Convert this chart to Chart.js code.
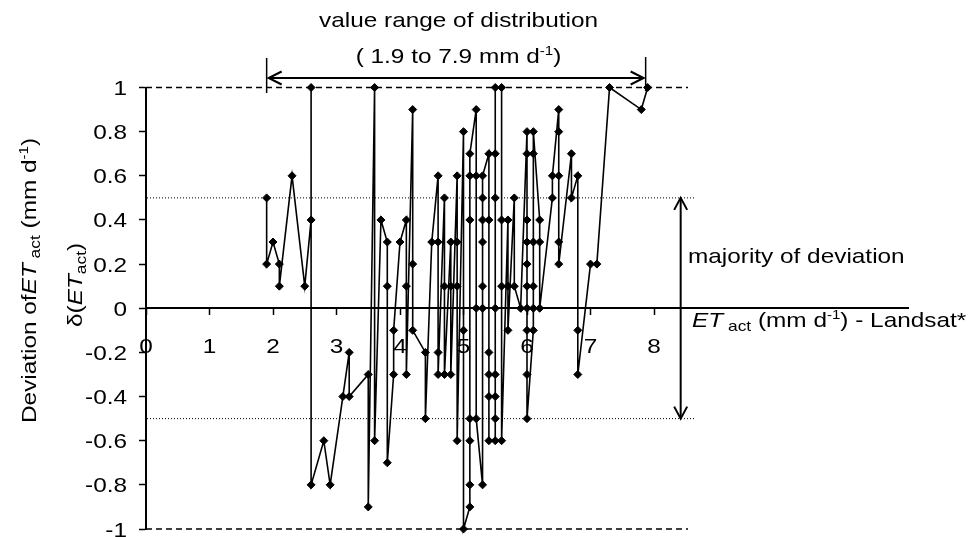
<!DOCTYPE html>
<html><head><meta charset="utf-8">
<script src="https://cdn.jsdelivr.net/npm/chart.js@4.4.1/dist/chart.umd.min.js"></script>
<style>html,body{margin:0;padding:0;background:#fff;}canvas{display:block;}</style>
</head><body>
<canvas id="c" width="973" height="537"></canvas>
<script>
// ET_act (Landsat*) values, mm/d
const etActLandsat = [
  1.9,1.9, 2.0, 2.1,2.1, 2.3, 2.5, 2.6,2.6,2.6, 2.8, 2.9, 3.1, 3.2,3.2,
  3.5,3.5, 3.6,3.6, 3.7, 3.8,3.8,3.8, 3.9,3.9, 4.0, 4.1,4.1,4.1, 4.2,4.2,4.2,
  4.4,4.4, 4.5, 4.6,4.6,4.6,4.6, 4.7,4.7,4.7, 4.8,4.8,4.8, 4.9,4.9,4.9,4.9,
  5.0,5.0,5.0, 5.1,5.1,5.1,5.1,5.1,5.1,5.1, 5.2,5.2,5.2,5.2,
  5.3,5.3,5.3,5.3,5.3,5.3,5.3, 5.4,5.4,5.4,5.4,5.4,5.4,
  5.5,5.5,5.5,5.5,5.5,5.5,5.5,5.5, 5.6,5.6,5.6,5.6, 5.7,5.7,5.7, 5.8,5.8, 5.9,
  6.0,6.0,6.0,6.0,6.0,6.0,6.0,6.0,6.0,6.0, 6.1,6.1,6.1,6.1,6.1,6.1,
  6.2,6.2,6.2, 6.4,6.4, 6.5,6.5,6.5,6.5,6.5, 6.7,6.7, 6.8,6.8,6.8,
  7.0, 7.1, 7.3, 7.8, 7.9
];
// deviation delta(ET_act), mm/d
const deviation = [
  0.5,0.2, 0.3, 0.2,0.1, 0.6, 0.1, 0.4,1.0,-0.8, -0.6, -0.8, -0.4, -0.2,-0.4,
  -0.3,-0.9, 1.0,-0.6, 0.4, 0.3,0.1,-0.7, -0.3,-0.1, 0.3, 0.4,0.1,-0.3, 0.9,0.2,-0.1,
  -0.2,-0.5, 0.3, 0.6,0.3,-0.2,-0.3, 0.5,0.1,-0.3, 0.3,0.1,-0.3, 0.6,0.3,0.1,-0.6,
  0.8,-0.1,-1.0, -0.9,-0.8,-0.6,-0.5,0.4,0.6,0.7, 0.9,0.6,0.0,-0.5,
  -0.8,0.0,0.1,0.3,0.4,0.5,0.6, 0.7,0.4,-0.2,-0.3,-0.4,-0.6,
  -0.6,-0.5,-0.4,-0.3,0.0,0.5,0.7,1.0, 1.0,0.4,0.1,-0.6, 0.4,0.1,-0.1, 0.5,0.1, 0.0,
  0.8,0.7,0.4,0.3,0.2,0.1,0.0,-0.1,-0.3,-0.5, -0.1,0.0,0.1,0.3,0.7,0.8,
  0.4,0.3,0.0, 0.5,0.6, 0.9,0.8,0.6,0.3,0.2, 0.7,0.5, 0.6,-0.1,-0.3,
  0.2, 0.2, 1.0, 0.9, 1.0
];
const xTickLabels = ['0','1','2','3','4','5','6','7','8'];
const yTickLabels = ['1','0.8','0.6','0.4','0.2','0','-0.2','-0.4','-0.6','-0.8','-1'];
const rangeMin = 1.9, rangeMax = 7.9;
const majorityBand = [0.5, -0.5];
const limits = [1, -1];

const FONT = '"Liberation Sans", Arial, sans-serif';
const S = 1.16;
function fontStr(size, italic){ return (italic ? 'italic ' : '') + size + 'px ' + FONT; }
function drawRich(ctx, parts, x, y, align, rot){
  ctx.save();
  ctx.translate(x, y);
  if (rot) ctx.rotate(rot);
  ctx.scale(S, 1);
  let w = 0;
  for (const p of parts){ ctx.font = fontStr(p.size || 21, p.italic); w += ctx.measureText(p.t).width; }
  let cx = align === 'center' ? -w/2 : (align === 'right' ? -w : 0);
  ctx.textAlign = 'left'; ctx.textBaseline = 'alphabetic'; ctx.fillStyle = '#000';
  for (const p of parts){
    ctx.font = fontStr(p.size || 21, p.italic);
    ctx.fillText(p.t, cx, p.dy || 0);
    cx += ctx.measureText(p.t).width;
  }
  ctx.restore();
}
function arrowHead(ctx, tx, ty, dx, dy, len, half){
  // open V arrowhead at tip (tx,ty), pointing in direction (dx,dy)
  const px = -dy, py = dx;
  ctx.beginPath();
  ctx.moveTo(tx - dx*len + px*half, ty - dy*len + py*half);
  ctx.lineTo(tx, ty);
  ctx.lineTo(tx - dx*len - px*half, ty - dy*len - py*half);
  ctx.stroke();
}

const refLines = {
  id: 'refLines',
  beforeDatasetsDraw(chart){
    const ctx = chart.ctx, xs = chart.scales.x, ys = chart.scales.y;
    const x0 = xs.getPixelForValue(0);
    ctx.save();
    ctx.strokeStyle = '#000';
    ctx.lineWidth = 1.3; ctx.setLineDash([6, 4]);
    for (const v of limits){
      const y = ys.getPixelForValue(v);
      ctx.beginPath(); ctx.moveTo(x0, y); ctx.lineTo(688, y); ctx.stroke();
    }
    ctx.lineWidth = 1; ctx.setLineDash([1, 2]);
    for (const v of majorityBand){
      const y = ys.getPixelForValue(v);
      ctx.beginPath(); ctx.moveTo(x0 + 1, y); ctx.lineTo(695, y); ctx.stroke();
    }
    ctx.restore();
  },
  afterDraw(chart){
    const ctx = chart.ctx, xs = chart.scales.x, ys = chart.scales.y;
    ctx.save();
    ctx.strokeStyle = '#000'; ctx.setLineDash([]);
    // tick labels
    xTickLabels.forEach(l => {
      drawRich(ctx, [{t: l}], xs.getPixelForValue(parseFloat(l)), 353, 'center');
    });
    yTickLabels.forEach(l => {
      drawRich(ctx, [{t: l}], 127, ys.getPixelForValue(parseFloat(l)) + 7.5, 'right');
    });
    // top range arrow
    const xa = xs.getPixelForValue(rangeMin), xb = xs.getPixelForValue(rangeMax);
    const ya = ys.getPixelForValue(1) - 9.5;
    ctx.lineWidth = 1.5;
    ctx.beginPath(); ctx.moveTo(xa, ya - 20); ctx.lineTo(xa, ya + 15); ctx.stroke();
    ctx.beginPath(); ctx.moveTo(xb - 2, ya - 21); ctx.lineTo(xb - 2, ya + 13); ctx.stroke();
    ctx.lineWidth = 2;
    ctx.beginPath(); ctx.moveTo(xa + 2, ya); ctx.lineTo(xb - 4, ya); ctx.stroke();
    arrowHead(ctx, xa + 2, ya, -1, 0, 13, 6.5);
    arrowHead(ctx, xb - 4, ya, 1, 0, 13, 6.5);
    // vertical majority arrow
    const xv = xs.getPixelForValue(8.42);
    const yt = ys.getPixelForValue(majorityBand[0]), yb = ys.getPixelForValue(majorityBand[1]);
    ctx.beginPath(); ctx.moveTo(xv, yt); ctx.lineTo(xv, yb); ctx.stroke();
    arrowHead(ctx, xv, yt, 0, -1, 12, 6.5);
    arrowHead(ctx, xv, yb, 0, 1, 12, 6.5);
    // texts
    drawRich(ctx, [{t: 'value range of distribution'}], 458.5, 27, 'center');
    drawRich(ctx, [{t: '( 1.9 to 7.9 mm d'}, {t: '-1', size: 13, dy: -8}, {t: ')'}], 458.5, 62.5, 'center');
    drawRich(ctx, [{t: 'majority of deviation'}], 688, 263, 'left');
    drawRich(ctx, [{t: 'ET', italic: true}, {t: ' act', size: 15, dy: 4}, {t: ' (mm d'}, {t: '-1', size: 13, dy: -8}, {t: ') - Landsat*'}], 692, 327, 'left');
    drawRich(ctx, [{t: 'Deviation of'}, {t: 'ET', italic: true}, {t: ' act', size: 15, dy: 4}, {t: ' (mm d'}, {t: '-1', size: 13, dy: -8}, {t: ')'}], 36, 423, 'left', -Math.PI/2);
    drawRich(ctx, [{t: 'δ('}, {t: 'ET', italic: true}, {t: 'act', size: 15, dy: 4}, {t: ')'}], 82, 327, 'left', -Math.PI/2);
    ctx.restore();
  }
};

const points = etActLandsat.map((x, i) => ({x: x, y: deviation[i]}));

new Chart(document.getElementById('c'), {
  type: 'line',
  data: { datasets: [{
    data: points,
    borderColor: '#000', borderWidth: 1.6,
    pointStyle: 'rectRot', pointRadius: 4, pointBackgroundColor: '#000', pointBorderColor: '#000', pointBorderWidth: 1,
    tension: 0, fill: false, clip: false
  }]},
  options: {
    responsive: false, animation: false, devicePixelRatio: 1,
    layout: { padding: { left: 146, right: 65, top: 87.5, bottom: 8 } },
    plugins: { legend: { display: false }, tooltip: { enabled: false }, title: { display: false } },
    scales: {
      x: {
        type: 'linear', position: { y: 0 }, min: 0, max: 12,
        ticks: { display: false, stepSize: 1 },
        grid: { display: true, drawOnChartArea: false, drawTicks: true, tickLength: 6, tickWidth: 1.5,
                tickColor: c => (c.tick && c.tick.value > 8 ? 'rgba(0,0,0,0)' : '#000') },
        border: { display: true, color: '#000', width: 2 }
      },
      y: {
        type: 'linear', position: { x: 0 }, min: -1, max: 1,
        ticks: { display: false, stepSize: 0.2 },
        grid: { display: true, drawOnChartArea: false, drawTicks: true, tickLength: 6, tickWidth: 1.5, tickColor: '#000' },
        border: { display: true, color: '#000', width: 2 }
      }
    }
  },
  plugins: [refLines]
});
</script>
</body></html>
